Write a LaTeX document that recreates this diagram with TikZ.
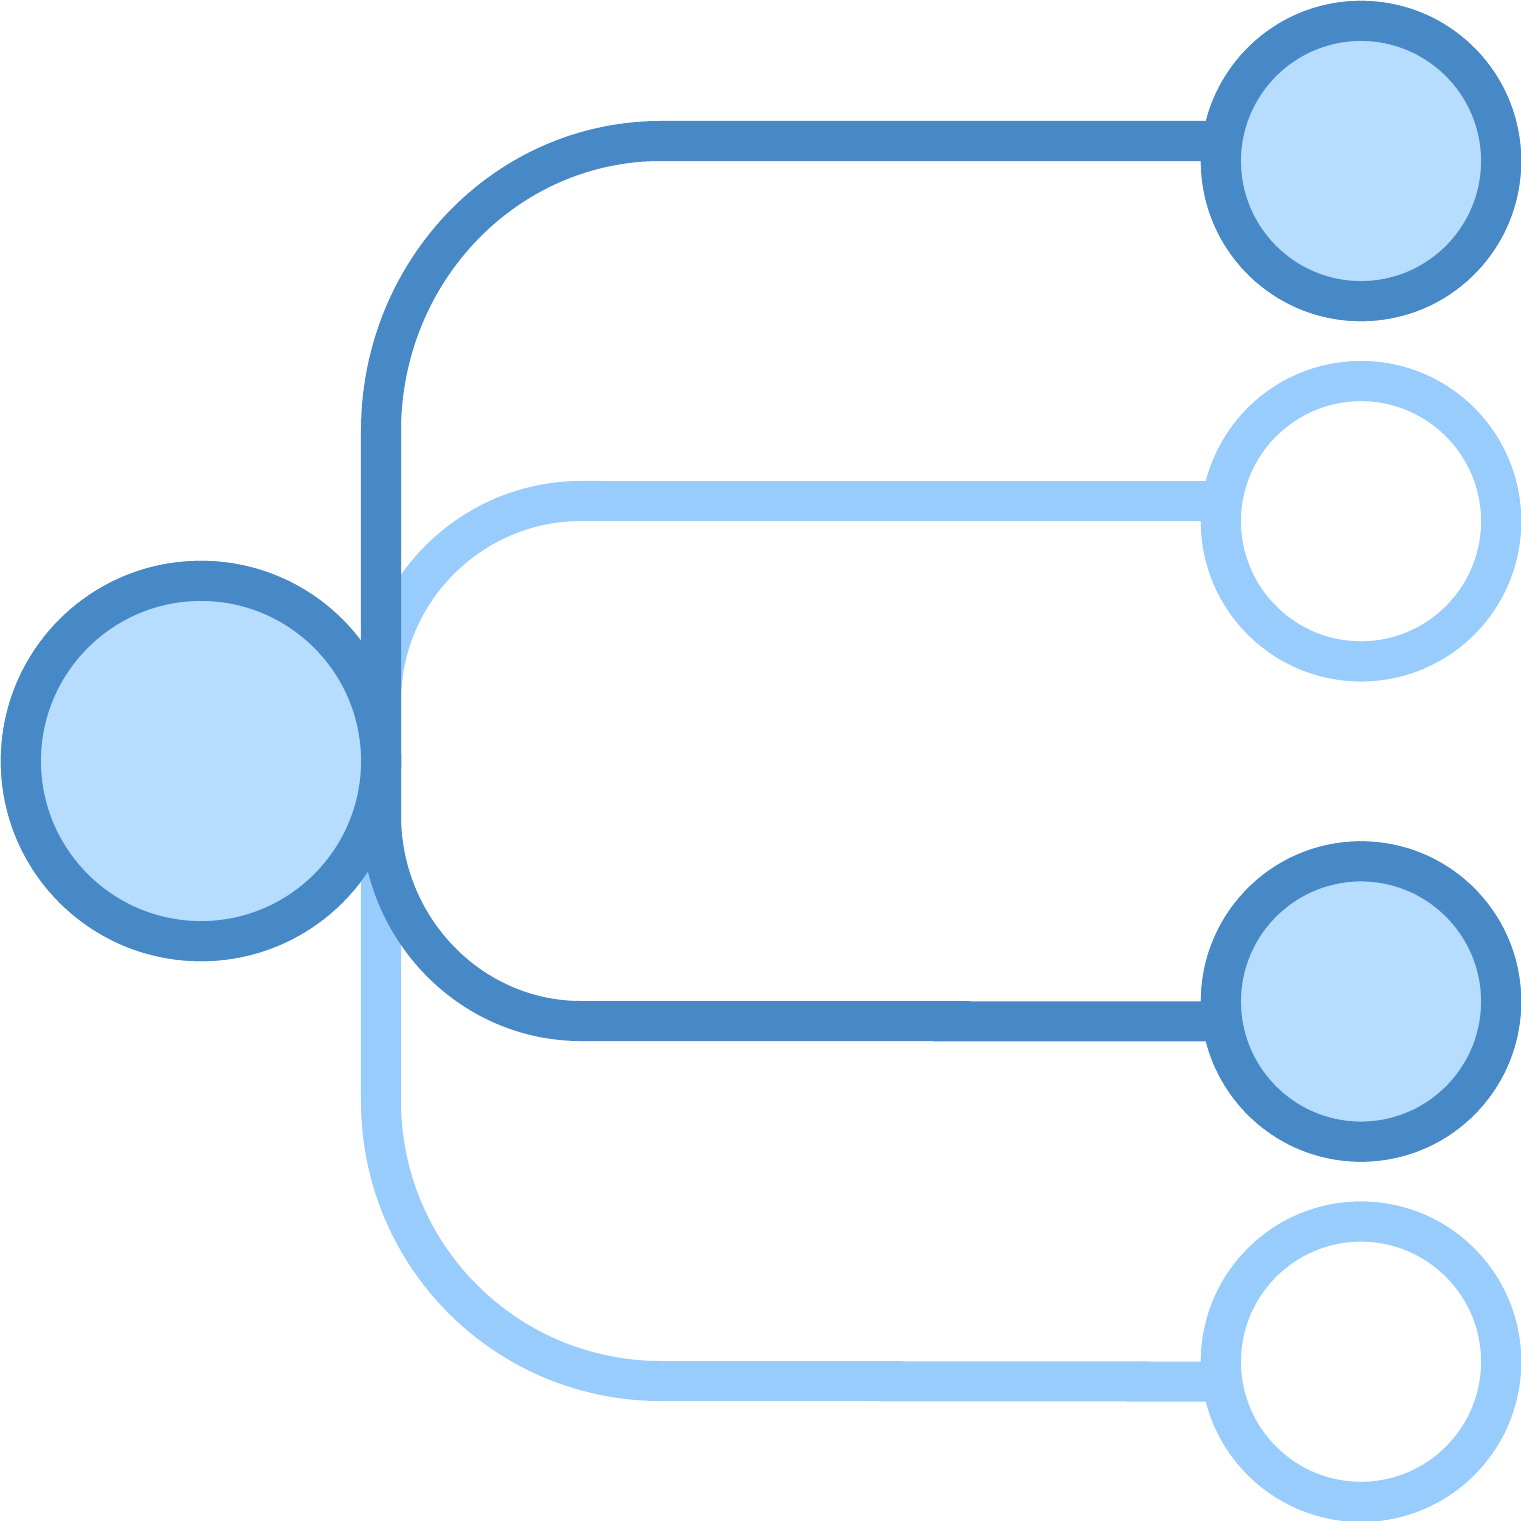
\documentclass[tikz,border=0pt]{standalone}
\usepackage{xcolor}
\usetikzlibrary{positioning}
\definecolor{darkblue}{HTML}{4788C7}
\definecolor{lightblue}{HTML}{98CCFD}
\definecolor{paleblue}{HTML}{B6DCFE}
\definecolor{offwhite}{HTML}{FFFFFF}

\begin{document}
\begin{tikzpicture}[x=0.01cm,y=-0.01cm,
        hub/.style={circle,draw=darkblue,fill=paleblue,line width=0.4cm,minimum size=3.6cm,inner sep=0pt,outer sep=0pt},
        on/.style={circle,draw=darkblue,fill=paleblue,line width=0.4cm,minimum size=2.8cm,inner sep=0pt,outer sep=0pt},
        off/.style={circle,draw=lightblue,fill=offwhite,line width=0.4cm,minimum size=2.8cm,inner sep=0pt,outer sep=0pt},
        wire/.style={line width=0.4cm}]
    \useasboundingbox (0,0) rectangle (1521,1521);
    % circles first, only to get their names
    \path node[hub] (root) at (201,761) {}
          node[on] (a) at (1361,161) {};
    \node[off] [below = 0.8cm of a] (b) {};
    \node[on] [below = 2.0cm of b] (c) {};
    \node[off] [below = 0.8cm of c] (d) {};
    % light wires
    \draw[wire,draw=lightblue] ([yshift=0.2cm]b.center) -- (581,501)
        .. controls (471,501) and (381,591) .. (381,701) -- (381,1101)
        .. controls (381,1256) and (506,1381) .. (661,1381) -- ([yshift=-0.2cm]d.center);
    % dark wires
    \draw[wire,draw=darkblue] ([yshift=0.2cm]a.center) -- (661,141)
        .. controls (506,141) and (381,271) .. (381,431) -- (381,815)
        .. controls (381,929) and (471,1021) .. (581,1021) -- ([yshift=-0.2cm]c.center);
    % circles again on top
    \node[hub] at (root) {};
    \node[on] at (a) {};
    \node[off] at (b) {};
    \node[on] at (c) {};
    \node[off] at (d) {};
\end{tikzpicture}
\end{document}
